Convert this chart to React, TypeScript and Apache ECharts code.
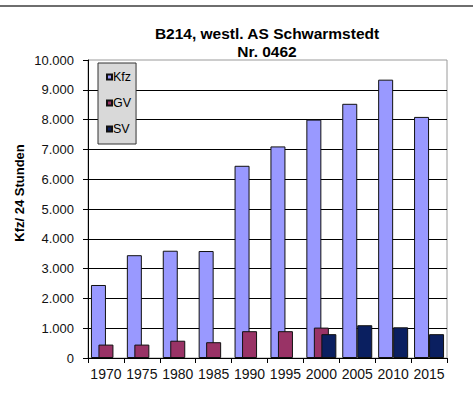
import React, { useEffect, useRef } from "react";
import * as echarts from "echarts";

const categories = ["1970", "1975", "1980", "1985", "1990", "1995", "2000", "2005", "2010", "2015"];
const kfz = [2450, 3450, 3600, 3590, 6450, 7100, 8000, 8530, 9340, 8090];
const gv = [450, 450, 580, 530, 900, 900, 1020, null, null, null];
const sv = [null, null, null, null, null, null, 800, 1100, 1030, 800];
const titleLines = ["B214, westl. AS Schwarmstedt", "Nr. 0462"];
const yTitle = "Kfz/ 24 Stunden";

const fmt = (v: number) => String(v).replace(/\B(?=(\d{3})+(?!\d))/g, ".");

export default function App() {
  const ref = useRef<HTMLDivElement>(null);
  useEffect(() => {
    if (!ref.current) return;
    const chart = echarts.init(ref.current, null, { renderer: "svg" });
    const font = "Liberation Sans, Arial, sans-serif";
    const barStyle = (color: string) => ({ color, borderColor: "#111", borderWidth: 1 });
    chart.setOption({
      animation: false,
      backgroundColor: "#fff",
      textStyle: { fontFamily: font },
      graphic: [
        { type: "rect", shape: { x: 0, y: 5, width: 473, height: 2 }, style: { fill: "#6e6e6e" } },
        {
          type: "text", x: 267, y: 33,
          style: { text: titleLines[0], font: "bold 15.5px " + font, fill: "#000", align: "center", verticalAlign: "middle", textAlign: "center", textVerticalAlign: "middle" },
        },
        {
          type: "text", x: 267, y: 51,
          style: { text: titleLines[1], font: "bold 15.5px " + font, fill: "#000", align: "center", verticalAlign: "middle", textAlign: "center", textVerticalAlign: "middle" },
        },
        {
          type: "text", x: 19, y: 193, rotation: Math.PI / 2,
          style: { text: yTitle, font: "bold 13px " + font, fill: "#000", align: "center", verticalAlign: "middle", textAlign: "center", textVerticalAlign: "middle" },
        },
      ],
      legend: {
        orient: "vertical",
        left: 98,
        top: 63,
        padding: [7, 5, 8, 8],
        itemWidth: 5,
        itemHeight: 5,
        itemGap: 12,
        icon: "rect",
        backgroundColor: "#d9d9d9",
        borderColor: "#333",
        borderWidth: 1,
        textStyle: { fontSize: 12.5, color: "#000", lineHeight: 14, fontFamily: font, padding: [0, 0, 0, -4] },
        data: ["Kfz", "GV", "SV"],
      },
      grid: {
        left: 88, top: 60, width: 359, height: 298,
        show: true, borderColor: "#9a9a9a", borderWidth: 1, backgroundColor: "transparent",
      },
      xAxis: {
        type: "category",
        data: categories,
        axisLine: { lineStyle: { color: "#000", width: 1 } },
        axisTick: { show: true, length: 5, alignWithLabel: false, lineStyle: { color: "#000" } },
        axisLabel: { interval: 0, fontSize: 14, color: "#111", margin: 9, fontFamily: font },
      },
      yAxis: {
        type: "value",
        min: 0,
        max: 10000,
        interval: 1000,
        axisLine: { show: true, lineStyle: { color: "#000", width: 1 } },
        axisTick: { show: true, length: 5, lineStyle: { color: "#000" } },
        axisLabel: { fontSize: 13, color: "#111", margin: 14, formatter: fmt, fontFamily: font },
        splitLine: { show: true, showMaxLine: false, lineStyle: { color: "#000", width: 1 } },
      },
      series: [
        { name: "Kfz", type: "bar", data: kfz, barWidth: 15, barGap: "-50%", itemStyle: barStyle("#9999ff") },
        { name: "GV", type: "bar", data: gv, barWidth: 15, barGap: "-50%", itemStyle: barStyle("#993366") },
        { name: "SV", type: "bar", data: sv, barWidth: 15, barGap: "-50%", itemStyle: barStyle("#0a1f60") },
      ],
    });
    return () => chart.dispose();
  }, []);
  return <div ref={ref} style={{ position: "absolute", left: 0, top: 0, width: 473, height: 410 }} />;
}
